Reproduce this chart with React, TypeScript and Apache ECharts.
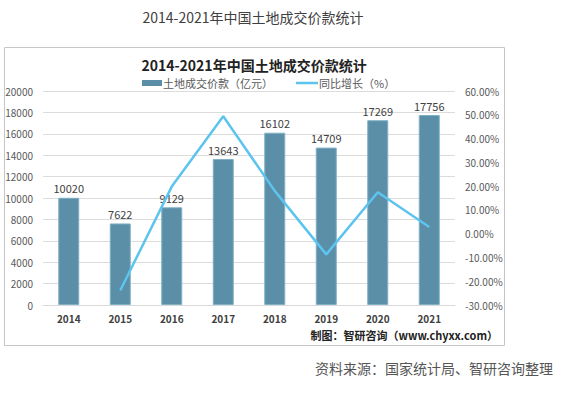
import React, { useEffect, useRef } from "react";
import * as echarts from "echarts";

const years = ["2014", "2015", "2016", "2017", "2018", "2019", "2020", "2021"];
const landValue = [10020, 7622, 9129, 13643, 16102, 14709, 17269, 17756];
const growthPct = [null, -23.9, 19.8, 49.4, 18.0, -8.7, 17.4, 2.8];
const pageTitle = "2014-2021年中国土地成交价款统计";
const chartTitle = "2014-2021年中国土地成交价款统计";
const barName = "土地成交价款（亿元）";
const lineName = "同比增长（%）";
const credit = "制图：智研咨询（www.chyxx.com）";
const sourceNote = "资料来源：国家统计局、智研咨询整理";

const FONT = "Noto Sans CJK SC";
const BAR_COLOR = "#5b8fa8";
const LINE_COLOR = "#5cc4ee";

export default function App() {
  const ref = useRef<HTMLDivElement>(null);
  useEffect(() => {
    if (!ref.current) return;
    const chart = echarts.init(ref.current, null, { renderer: "svg" });
    chart.setOption({
      animation: false,
      backgroundColor: "#ffffff",
      textStyle: { fontFamily: FONT },
      graphic: [
        {
          type: "rect",
          shape: { x: 4.5, y: 47.5, width: 500, height: 298 },
          style: { fill: "none", stroke: "#c6c6c6", lineWidth: 1 },
          z: 0,
        },
        {
          type: "text",
          x: 253,
          y: 17,
          style: {
            text: pageTitle,
            fill: "#404040",
            fontSize: 14,
            fontFamily: FONT,
            align: "center",
            verticalAlign: "middle",
          },
        },
        {
          type: "text",
          x: 254,
          y: 65,
          style: {
            text: chartTitle,
            fill: "#222222",
            fontSize: 14,
            fontWeight: "bold",
            fontFamily: FONT,
            align: "center",
            verticalAlign: "middle",
          },
        },
        {
          type: "rect",
          shape: { x: 142, y: 80, width: 20, height: 6 },
          style: { fill: BAR_COLOR },
        },
        {
          type: "text",
          x: 163,
          y: 83,
          style: {
            text: barName,
            fill: "#595959",
            fontSize: 11,
            fontFamily: FONT,
            align: "left",
            verticalAlign: "middle",
          },
        },
        {
          type: "line",
          shape: { x1: 296, y1: 83, x2: 318, y2: 83 },
          style: { stroke: LINE_COLOR, lineWidth: 2.5 },
        },
        {
          type: "text",
          x: 319,
          y: 83,
          style: {
            text: lineName,
            fill: "#595959",
            fontSize: 11,
            fontFamily: FONT,
            align: "left",
            verticalAlign: "middle",
          },
        },
        {
          type: "text",
          x: 498,
          y: 335,
          style: {
            text: credit,
            fill: "#222222",
            fontSize: 11,
            fontWeight: "bold",
            fontFamily: FONT,
            align: "right",
            verticalAlign: "middle",
          },
        },
        {
          type: "text",
          x: 553,
          y: 368,
          style: {
            text: sourceNote,
            fill: "#555555",
            fontSize: 14,
            fontFamily: FONT,
            align: "right",
            verticalAlign: "middle",
          },
        },
      ],
      grid: { left: 43, right: 112, top: 91, bottom: 94 },
      xAxis: {
        type: "category",
        data: years,
        axisTick: { show: false },
        axisLine: { lineStyle: { color: "#d9d9d9" } },
        axisLabel: {
          fontSize: 10,
          fontWeight: "bold",
          color: "#404040",
          margin: 8,
          fontFamily: FONT,
        },
      },
      yAxis: [
        {
          type: "value",
          min: 0,
          max: 20000,
          interval: 2000,
          axisLabel: {
            fontSize: 10,
            color: "#595959",
            margin: 10,
            fontFamily: FONT,
            formatter: (v: number) => String(v),
          },
          splitLine: { lineStyle: { color: "#dcdcdc" } },
          axisLine: { show: false },
          axisTick: { show: false },
        },
        {
          type: "value",
          min: -30,
          max: 60,
          interval: 10,
          position: "right",
          axisLabel: {
            fontSize: 10,
            color: "#595959",
            margin: 10,
            fontFamily: FONT,
            formatter: (v: number) => v.toFixed(2) + "%",
          },
          splitLine: { show: false },
          axisLine: { show: false },
          axisTick: { show: false },
        },
      ],
      series: [
        {
          name: barName,
          type: "bar",
          data: landValue,
          barWidth: 21,
          itemStyle: { color: BAR_COLOR, borderColor: "#7fb0c6", borderWidth: 1 },
          label: {
            show: true,
            position: "top",
            distance: 4,
            fontSize: 11,
            color: "#404040",
            fontFamily: FONT,
          },
        },
        {
          name: lineName,
          type: "line",
          yAxisIndex: 1,
          data: growthPct,
          symbol: "none",
          showSymbol: false,
          lineStyle: { color: LINE_COLOR, width: 2.5 },
          itemStyle: { color: LINE_COLOR },
          z: 3,
        },
      ],
    });
    return () => chart.dispose();
  }, []);
  return (
    <div
      ref={ref}
      style={{ position: "fixed", left: 0, top: 0, width: 567, height: 399 }}
    />
  );
}
